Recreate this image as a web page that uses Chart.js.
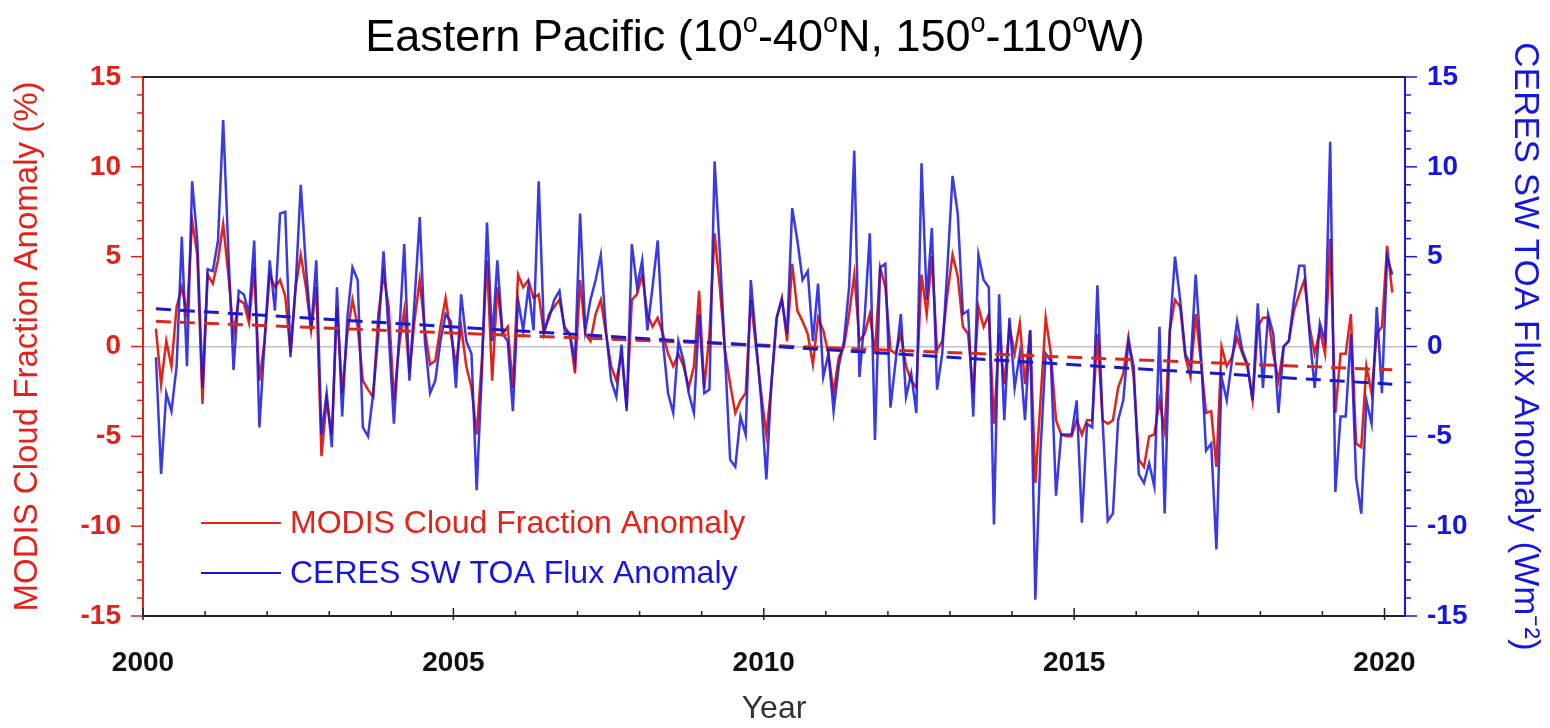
<!DOCTYPE html>
<html>
<head>
<meta charset="utf-8">
<script src="https://cdn.jsdelivr.net/npm/chart.js@4.4.1/dist/chart.umd.min.js"></script>
<style>
  html, body { margin: 0; padding: 0; background: #fff; }
  #wrap { position: relative; width: 1550px; height: 728px; }
  #title { position: absolute; left: 755px; top: 10px; transform: translateX(-50%); white-space: nowrap;
           font-family: "Liberation Sans", Arial, sans-serif; font-size: 45px; line-height: 52px; color: #000; }
  #title sup { font-size: 0.6em; vertical-align: 0.7em; line-height: 0; }
  canvas { position: absolute; left: 0; top: 0; }
</style>
</head>
<body>
<div id="wrap">
  <canvas id="c" width="1550" height="728"></canvas>
  <div id="title">Eastern Pacific (10<sup>o</sup>-40<sup>o</sup>N, 150<sup>o</sup>-110<sup>o</sup>W)</div>
</div>
<script>
// ---------------- DATA (monthly anomalies, March 2000 – February 2020) ----------------
const startYear = 2000;
const startMonth = 2; // 0 = January, so 2 = March

const modisCloud = [
  1.0, -2.1, 0.3, -1.1, 2.2, 3.3, 1.8, 7.0, 5.1, -3.2,
  4.0, 3.5, 4.8, 6.8, 4.0, 0.7, 2.6, 2.4, 1.3, 4.4, -1.9, 0.3,
  4.0, 3.3, 3.7, 2.8, -0.3, 3.3, 5.1, 3.3, 0.9, 3.3, -6.1, -3.0,
  -4.9, 2.2, -2.6, 0.7, 2.6, 1.1, -1.9, -2.4, -2.8, 1.8, 4.0, 2.2,
  -3.0, 0.0, 2.0, -1.5, 1.5, 3.7, 0.9, -1.0, -0.8, 1.1, 2.7, 0.7,
  -1.0, 1.1, -1.1, -2.3, -4.9, -0.8, 4.8, -1.9, 3.3, 0.7, 1.1, -2.3,
  4.0, 3.3, 3.7, 2.7, 2.9, 0.7, 1.8, 2.2, 2.6, 1.1, 0.7, -1.5,
  3.7, 0.7, 0.3, 1.8, 2.6, 0.7, -1.1, -1.9, -0.4, -3.4, 2.6, 2.9,
  4.0, 1.8, 1.1, 1.6, 0.7, -0.4, -1.1, -0.4, -1.1, -2.3, -1.1, 3.1,
  -2.3, 0.7, 6.3, 3.3, -0.2, -2.1, -3.7, -3.0, -2.6, 2.6, 0.0, -2.6,
  -4.9, -2.1, 1.6, 2.7, 0.3, 4.6, 2.0, 1.4, 0.7, -1.0, 1.6, 0.9,
  -0.4, -2.6, -0.6, 0.0, 1.8, 4.0, 0.3, 0.7, 1.8, -0.4, 4.4, 3.3,
  -0.2, -0.4, 0.7, -1.1, -1.9, -2.3, 4.0, 1.8, 5.0, -0.2, 0.3, 2.9,
  5.1, 3.9, 1.1, 0.7, -2.6, 2.2, 1.1, 1.8, -4.3, 0.7, -2.1, 1.1,
  -0.4, 1.3, -2.1, 0.9, -7.6, -3.0, 1.6, -0.4, -4.1, -4.9, -5.0, -5.0,
  -4.1, -4.9, -4.1, -4.1, 0.7, -4.1, -4.3, -4.1, -2.3, -1.5, 0.5, -1.7,
  -6.3, -6.7, -5.0, -4.9, -3.0, -4.7, 0.9, 2.6, 2.2, -0.6, -1.7, 1.8,
  -0.8, -3.7, -3.6, -6.7, 0.0, -1.1, -0.6, 0.5, -0.4, -1.1, -3.0, 1.1,
  1.6, 1.6, -0.4, -1.9, 0.0, 0.3, 2.0, 2.9, 3.7, 1.1, -0.4, 0.9,
  -0.4, 6.0, -3.7, -0.4, -0.4, 1.8, -5.4, -5.6, -1.1, -2.6, 0.7, 1.1,
  5.6, 3.0
];

const ceresSW = [
  -0.6, -7.1, -2.6, -3.6, -1.1, 6.1, -1.1, 9.2, 5.9, -2.3,
  4.3, 4.2, 5.9, 12.6, 5.3, -1.3, 3.1, 2.9, 1.8, 5.9, -4.5, 0.3,
  4.8, 2.0, 7.4, 7.5, -0.6, 3.3, 9.0, 4.4, 0.9, 4.8, -4.9, -2.6,
  -5.6, 3.3, -3.9, 1.6, 4.4, 3.7, -4.5, -5.0, -2.6, 0.7, 5.3, 0.7,
  -4.3, 0.5, 5.7, -1.9, 2.6, 7.2, 0.3, -2.6, -1.9, 0.3, 1.8, 1.4,
  -2.3, 2.9, 0.3, -0.4, -8.0, -1.5, 6.9, 0.3, 4.8, 0.7, 0.3, -3.6,
  2.6, 0.9, 3.3, 0.9, 9.2, 0.9, 1.6, 2.6, 3.1, 0.9, 0.7, -0.8,
  7.4, 0.9, 2.6, 3.7, 5.1, 0.9, -1.9, -2.8, 0.1, -3.6, 5.7, 3.3,
  4.8, 0.9, 3.3, 5.9, 0.3, -2.6, -3.7, 0.3, -0.8, -2.6, -3.7, 1.8,
  -2.6, -2.4, 10.3, 5.3, -0.4, -6.3, -6.7, -3.9, -4.9, 3.7, 0.3, -3.0,
  -7.4, -1.9, 1.6, 2.6, 0.7, 7.7, 5.9, 3.7, 4.2, 0.3, 3.5, -1.7,
  -0.4, -3.6, -1.1, 0.3, 3.3, 10.9, -1.7, 1.6, 6.3, -5.2, 4.4, 4.6,
  -3.4, -0.8, 1.8, -2.8, -1.5, -3.7, 10.2, 2.6, 6.6, -2.4, -0.4, 4.4,
  9.5, 7.4, 1.8, 2.0, -3.9, 5.1, 3.7, 3.3, -9.9, 2.9, -4.1, 1.6,
  -2.3, -0.4, -4.1, 0.9, -14.1, -5.8, -0.4, -0.8, -8.3, -4.9, -4.9, -4.9,
  -3.0, -9.8, -4.3, -4.5, 3.4, -4.1, -9.7, -9.3, -4.1, -3.0, 0.3, -1.1,
  -7.1, -7.6, -6.5, -7.8, 1.1, -9.3, 0.9, 5.0, 2.6, -0.4, -1.1, 4.0,
  -0.4, -5.8, -5.4, -11.3, -1.7, -3.0, -0.8, 1.4, -0.2, -1.0, -3.0, 2.4,
  -2.3, 1.8, 0.7, -3.7, 0.0, 0.3, 2.6, 4.5, 4.5, 0.7, -2.3, 1.3,
  0.3, 11.4, -8.1, -3.9, -3.9, 0.7, -7.3, -9.3, -3.0, -4.3, 2.2, -2.6,
  5.0, 4.0
];

// linear trend lines: value at first and last month
const modisTrend = [1.4, -1.3];
const ceresTrend = [2.1, -2.1];

const yTicks = [-15, -10, -5, 0, 5, 10, 15];
const xTickYears = [2000, 2005, 2010, 2015, 2020];

const legendLabels = ['MODIS Cloud Fraction Anomaly', 'CERES SW TOA Flux Anomaly'];
const leftTitle = 'MODIS Cloud Fraction Anomaly (%)';
const rightTitle = 'CERES SW TOA Flux Anomaly (Wm\u207B\u00B2)';
const xTitle = 'Year';

// ---------------- BUILD ----------------
const RED = '#e2231a';
const BLUE = '#1616e0';
const FONT = '"Liberation Sans", Arial, sans-serif';

function monthX(i) { return startYear + (startMonth + i + 0.5) / 12; }
const redPts = modisCloud.map((v, i) => ({ x: monthX(i), y: v }));
const bluePts = ceresSW.map((v, i) => ({ x: monthX(i), y: v }));
const xFirst = monthX(0), xLast = monthX(modisCloud.length - 1);
const redTrendPts = [{ x: xFirst, y: modisTrend[0] }, { x: xLast, y: modisTrend[1] }];
const blueTrendPts = [{ x: xFirst, y: ceresTrend[0] }, { x: xLast, y: ceresTrend[1] }];

const decorPlugin = {
  id: 'decor',
  afterDraw(chart) {
    const { ctx, chartArea: a, scales } = chart;
    const yL = scales.yL, yR = scales.yR, x = scales.x;
    ctx.save();
    // top frame line
    ctx.strokeStyle = '#222';
    ctx.lineWidth = 2;
    ctx.beginPath(); ctx.moveTo(a.left, a.top); ctx.lineTo(a.right, a.top); ctx.stroke();
    // y tick marks (major every 5, minor every 1)
    for (let v = yTicks[0]; v <= yTicks[yTicks.length - 1]; v++) {
      const major = v % 5 === 0;
      const len = major ? 12 : 6;
      ctx.lineWidth = 1.5;
      ctx.strokeStyle = RED;
      let py = yL.getPixelForValue(v);
      ctx.beginPath(); ctx.moveTo(a.left - len, py); ctx.lineTo(a.left, py); ctx.stroke();
      ctx.strokeStyle = BLUE;
      py = yR.getPixelForValue(v);
      ctx.beginPath(); ctx.moveTo(a.right, py); ctx.lineTo(a.right + len, py); ctx.stroke();
    }
    // x tick marks (each year)
    ctx.strokeStyle = '#222';
    ctx.lineWidth = 1.5;
    for (let yr = xTickYears[0]; yr <= xTickYears[xTickYears.length - 1]; yr++) {
      const px = x.getPixelForValue(yr);
      const major = yr % 5 === 0;
      ctx.beginPath();
      ctx.moveTo(px, a.bottom + (major ? 4 : 0));
      ctx.lineTo(px, a.bottom - (major ? 8 : 5));
      ctx.stroke();
    }
    // legend inside plot
    const items = [
      { label: legendLabels[0], color: RED, y: a.top + 446 },
      { label: legendLabels[1], color: BLUE, y: a.top + 496 }
    ];
    ctx.font = '32px ' + FONT;
    ctx.textBaseline = 'middle';
    ctx.textAlign = 'left';
    items.forEach(it => {
      ctx.strokeStyle = it.color;
      ctx.lineWidth = 2;
      ctx.beginPath(); ctx.moveTo(a.left + 58, it.y); ctx.lineTo(a.left + 138, it.y); ctx.stroke();
      ctx.fillStyle = it.color;
      ctx.fillText(it.label, a.left + 147, it.y + 1);
    });
    ctx.restore();
  }
};

new Chart(document.getElementById('c'), {
  type: 'line',
  data: {
    datasets: [
      { label: legendLabels[0], data: redPts, yAxisID: 'yL', borderColor: RED, borderWidth: 2.5,
        pointRadius: 0, tension: 0, order: 3 },
      { label: legendLabels[1], data: bluePts, yAxisID: 'yR', borderColor: 'rgba(22,22,224,0.85)', borderWidth: 2.5,
        pointRadius: 0, tension: 0, order: 2 },
      { label: 'MODIS trend', data: redTrendPts, yAxisID: 'yL', borderColor: '#d62a20', borderWidth: 3,
        borderDash: [15, 9], pointRadius: 0, order: 1 },
      { label: 'CERES trend', data: blueTrendPts, yAxisID: 'yR', borderColor: '#1a1acc', borderWidth: 3,
        borderDash: [15, 9], pointRadius: 0, order: 0 }
    ]
  },
  options: {
    responsive: false,
    animation: false,
    layout: { padding: { top: 77, bottom: 0, left: 0, right: 0 } },
    plugins: { legend: { display: false }, title: { display: false }, tooltip: { enabled: false } },
    scales: {
      x: {
        type: 'linear', min: 2000, max: 2020.33,
        afterFit(s) { s.height = 112; },
        border: { display: true, color: '#222', width: 2 },
        grid: { display: false, drawTicks: false },
        ticks: {
          stepSize: 5, includeBounds: false, padding: 30, color: '#111',
          font: { family: FONT, size: 28, weight: 'bold' },
          callback: v => (xTickYears.includes(v) ? String(v) : '')
        },
        title: { display: true, text: xTitle, color: '#333', font: { family: FONT, size: 32 },
                 padding: { top: 0, bottom: 0 } }
      },
      yL: {
        type: 'linear', position: 'left', min: -15, max: 15,
        afterFit(s) { s.width = 143; },
        border: { display: true, color: RED, width: 2 },
        grid: { drawTicks: false, drawOnChartArea: true,
                color: c => (c.tick && c.tick.value === 0 ? '#c4c4c4' : 'rgba(0,0,0,0)'), lineWidth: 1.5 },
        ticks: { stepSize: 5, padding: 22, color: RED, font: { family: FONT, size: 28, weight: 'bold' },
                 callback: v => (yTicks.includes(v) ? String(v) : '') },
        title: { display: true, text: leftTitle, color: RED, font: { family: FONT, size: 33 },
                 padding: { top: 8, bottom: 0 } }
      },
      yR: {
        type: 'linear', position: 'right', min: -15, max: 15,
        afterFit(s) { s.width = 145; },
        border: { display: true, color: BLUE, width: 2 },
        grid: { display: false, drawTicks: false },
        ticks: { stepSize: 5, padding: 22, color: BLUE, font: { family: FONT, size: 28, weight: 'bold' },
                 callback: v => (yTicks.includes(v) ? String(v) : '') },
        title: { display: true, text: rightTitle, color: BLUE, font: { family: FONT, size: 35 },
                 padding: { top: 4, bottom: 0 } }
      }
    }
  },
  plugins: [decorPlugin]
});
</script>
</body>
</html>
